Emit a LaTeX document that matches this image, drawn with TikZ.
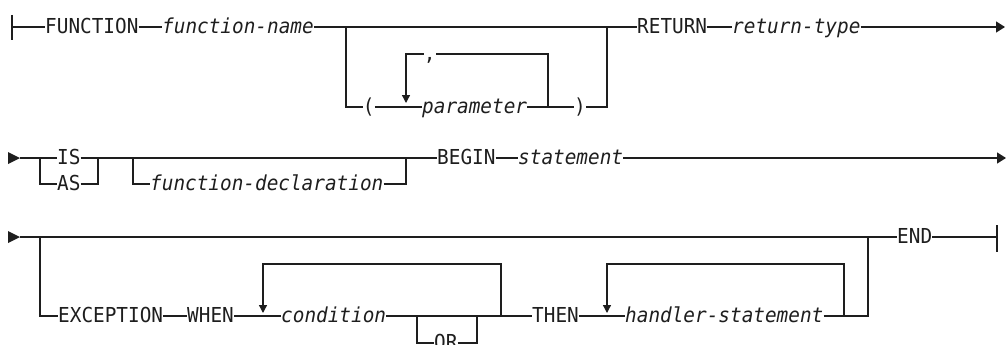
\documentclass[tikz,border=0pt]{standalone}
\usepackage{fontspec}
\setmonofont[FakeStretch=0.94]{DejaVu Sans Mono}
\usetikzlibrary{arrows.meta}
\definecolor{ink}{RGB}{30,30,30}
\tikzset{
  kw/.style={font=\ttfamily\fontsize{20.6}{21}\selectfont, inner xsep=0pt, inner ysep=0pt,
             text height=12.5pt, text depth=0pt, anchor=west, text=ink},
  var/.style={kw, font=\ttfamily\itshape\fontsize{20.6}{21}\selectfont},
  rail/.style={draw=ink, line width=1.3pt},
  endarrow/.style={-{Triangle[length=9pt,width=11pt]}},
  looparrow/.style={-{Triangle[length=8pt,width=8pt]}}
}
\begin{document}
\begin{tikzpicture}[x=1pt,y=-1pt]
\useasboundingbox (0,0) rectangle (1007,345);
% ---------- Row 1 ----------
\coordinate (s1) at (12,27);
\coordinate (s1t) at (12,15);
\coordinate (s1b) at (12,40);
\node[kw]  (function) at (45,27)  {FUNCTION};
\node[var] (fname)    at (162,27) {function-name};
\coordinate (p1) at (346,27);
\coordinate (p2) at (607,27);
\node[kw]  (lp)    at (362.7,107) {(};
\node[var] (param) at (422,107)   {parameter};
\node[kw]  (rp)    at (574,107)   {)};
\coordinate (l1)  at (406,54);
\coordinate (l1b) at (406,103);
\coordinate (l2)  at (548,54);
\coordinate (l2b) at (548,107);
\node[kw]  (comma) at (423.7,54) {,};
\node[kw]  (return) at (637,27) {RETURN};
\node[var] (rtype)  at (732,27) {return-type};
\coordinate (e1) at (1005,27);
\draw[rail] (s1t) -- (s1b);
\draw[rail] (s1) -- (function.west);
\draw[rail] (function.east) -- (fname.west);
\draw[rail] (fname.east) -- (return.west);
\draw[rail] (p1) |- (lp.west);
\draw[rail] (lp.east) -- (param.west);
\draw[rail] (param.east) -- (rp.west);
\draw[rail] (rp.east) -| (p2);
\draw[rail] (l2b) -- (l2) -- (comma.east);
\draw[rail,looparrow] (comma.west) -- (l1) -- (l1b);
\draw[rail] (return.east) -- (rtype.west);
\draw[rail,endarrow] (rtype.east) -- (e1);
% ---------- Row 2 ----------
\coordinate (s2) at (20,158);
\fill[ink] (8,152) -- (s2) -- (8,164) -- cycle;
\coordinate (b2) at (40,158);
\node[kw] (is) at (57,158) {IS};
\node[kw] (as) at (57,184) {AS};
\coordinate (j2) at (98,158);
\coordinate (d1) at (133,158);
\node[var] (fdecl) at (150,184) {function-declaration};
\coordinate (d2) at (406,158);
\node[kw]  (begin) at (437,158) {BEGIN};
\node[var] (stmt)  at (518,158) {statement};
\coordinate (e2) at (1006,158);
\draw[rail] (s2) -- (is.west);
\draw[rail] (b2) |- (as.west);
\draw[rail] (is.east) -- (begin.west);
\draw[rail] (as.east) -| (j2);
\draw[rail] (d1) |- (fdecl.west);
\draw[rail] (fdecl.east) -| (d2);
\draw[rail] (begin.east) -- (stmt.west);
\draw[rail,endarrow] (stmt.east) -- (e2);
% ---------- Row 3 ----------
\coordinate (s3) at (20,237);
\fill[ink] (8,231) -- (s3) -- (8,243) -- cycle;
\coordinate (b3) at (40,237);
\coordinate (j3) at (868,237);
\node[kw] (end) at (897,237) {END};
\coordinate (e3)  at (997,237);
\coordinate (e3t) at (997,225);
\coordinate (e3b) at (997,252);
\draw[rail] (s3) -- (end.west);
\draw[rail] (end.east) -- (e3);
\draw[rail] (e3t) -- (e3b);
\node[kw]  (exc)   at (58,316)  {EXCEPTION};
\node[kw]  (when)  at (187,316) {WHEN};
\node[var] (cond)  at (281,316) {condition};
\node[kw]  (or)    at (434,343) {OR};
\node[kw]  (then)  at (532,316) {THEN};
\node[var] (hstmt) at (625,316) {handler-statement};
\coordinate (o1) at (417,316);
\coordinate (o2) at (477,316);
\coordinate (c1)  at (263,264);
\coordinate (c1b) at (263,313);
\coordinate (c2)  at (501,264);
\coordinate (c2b) at (501,316);
\coordinate (h1)  at (607,264);
\coordinate (h1b) at (607,313);
\coordinate (h2)  at (844,264);
\coordinate (h2b) at (844,316);
\draw[rail] (b3) |- (exc.west);
\draw[rail] (exc.east) -- (when.west);
\draw[rail] (when.east) -- (cond.west);
\draw[rail] (cond.east) -- (then.west);
\draw[rail] (o1) |- (or.west);
\draw[rail] (or.east) -| (o2);
\draw[rail,looparrow] (c2b) -- (c2) -- (c1) -- (c1b);
\draw[rail] (then.east) -- (hstmt.west);
\draw[rail] (hstmt.east) -| (j3);
\draw[rail,looparrow] (h2b) -- (h2) -- (h1) -- (h1b);
\end{tikzpicture}
\end{document}
